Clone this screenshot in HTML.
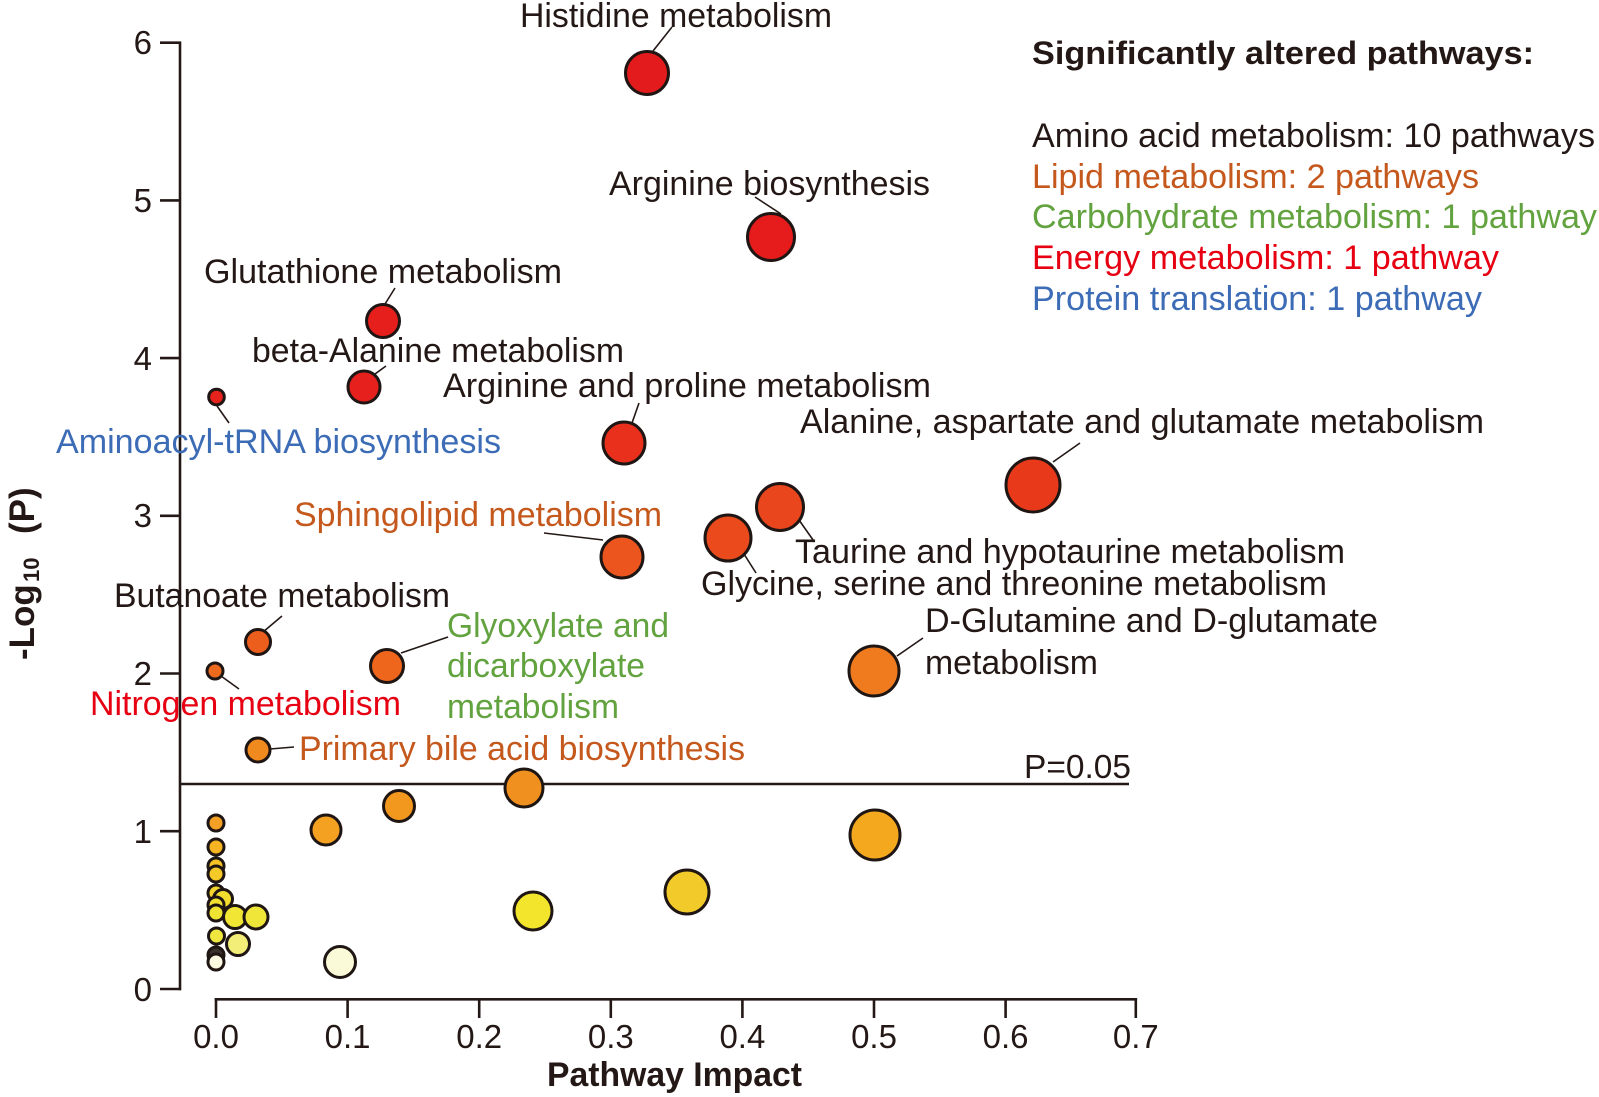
<!DOCTYPE html>
<html>
<head>
<meta charset="utf-8">
<style>
  html,body{margin:0;padding:0;background:#fff;}
  svg{display:block;}
  text{font-family:"Liberation Sans",Arial,sans-serif;}
</style>
</head>
<body>
<svg width="1599" height="1097" viewBox="0 0 1599 1097" xmlns="http://www.w3.org/2000/svg">
  <rect x="0" y="0" width="1599" height="1097" fill="#fff"/>

  <!-- Y axis -->
  <g stroke="#231815" stroke-width="2.6" fill="none">
    <line x1="180" y1="41.5" x2="180" y2="990.2"/>
    <line x1="160" y1="42.7" x2="181" y2="42.7"/>
    <line x1="160" y1="200.4" x2="180" y2="200.4"/>
    <line x1="160" y1="358.1" x2="180" y2="358.1"/>
    <line x1="160" y1="515.8" x2="180" y2="515.8"/>
    <line x1="160" y1="673.5" x2="180" y2="673.5"/>
    <line x1="160" y1="831.2" x2="180" y2="831.2"/>
    <line x1="160" y1="989" x2="181" y2="989"/>
  </g>
  <g font-size="33" fill="#231815" text-anchor="end">
    <text x="152" y="54">6</text>
    <text x="152" y="212">5</text>
    <text x="152" y="370">4</text>
    <text x="152" y="527">3</text>
    <text x="152" y="685">2</text>
    <text x="152" y="843">1</text>
    <text x="152" y="1001">0</text>
  </g>

  <!-- X axis -->
  <g stroke="#231815" stroke-width="2.6" fill="none">
    <line x1="214.7" y1="999.3" x2="1137.1" y2="999.3"/>
    <line x1="216" y1="998" x2="216" y2="1018"/>
    <line x1="347.6" y1="999" x2="347.6" y2="1018"/>
    <line x1="479.2" y1="999" x2="479.2" y2="1018"/>
    <line x1="610.8" y1="999" x2="610.8" y2="1018"/>
    <line x1="742.4" y1="999" x2="742.4" y2="1018"/>
    <line x1="874" y1="999" x2="874" y2="1018"/>
    <line x1="1005.6" y1="999" x2="1005.6" y2="1018"/>
    <line x1="1135.8" y1="998" x2="1135.8" y2="1018"/>
  </g>
  <g font-size="33" fill="#231815" text-anchor="middle">
    <text x="216" y="1048">0.0</text>
    <text x="347.6" y="1048">0.1</text>
    <text x="479.2" y="1048">0.2</text>
    <text x="610.8" y="1048">0.3</text>
    <text x="742.4" y="1048">0.4</text>
    <text x="874" y="1048">0.5</text>
    <text x="1005.6" y="1048">0.6</text>
    <text x="1135.8" y="1048">0.7</text>
  </g>

  <!-- Axis titles -->
  <text x="547" y="1086" font-size="34" font-weight="bold" fill="#231815" textLength="255" lengthAdjust="spacingAndGlyphs">Pathway Impact</text>
  <g transform="translate(34,660) rotate(-90)" fill="#231815" font-weight="bold">
    <text x="0" y="0" font-size="35">-Log</text>
    <text x="78" y="5" font-size="22">10</text>
    <text x="126" y="0" font-size="35">(P)</text>
  </g>

  <!-- P = 0.05 line -->
  <line x1="180" y1="784" x2="1129" y2="784" stroke="#231815" stroke-width="2.6"/>
  <text x="1024" y="778" font-size="33" fill="#231815" textLength="107" lengthAdjust="spacingAndGlyphs">P=0.05</text>

  <!-- Callout lines -->
  <g stroke="#231815" stroke-width="1.6" fill="none">
    <line x1="672" y1="27" x2="653" y2="51"/>
    <line x1="755" y1="197" x2="781" y2="214"/>
    <line x1="395" y1="288" x2="385" y2="304"/>
    <line x1="386" y1="366" x2="375" y2="374"/>
    <line x1="217" y1="406" x2="229" y2="423"/>
    <line x1="639" y1="403" x2="632" y2="423"/>
    <line x1="1080" y1="443" x2="1053" y2="462"/>
    <line x1="544" y1="533" x2="603" y2="540"/>
    <line x1="799" y1="520" x2="814.5" y2="542"/>
    <line x1="744" y1="554" x2="756" y2="573"/>
    <line x1="282" y1="616" x2="263" y2="632"/>
    <line x1="401" y1="653" x2="448" y2="637"/>
    <line x1="221" y1="676" x2="239" y2="689"/>
    <line x1="897" y1="656" x2="923" y2="638"/>
    <line x1="270" y1="749" x2="294" y2="747"/>
  </g>

  <!-- Bubbles -->
  <g stroke="#1f1614" stroke-width="3">
    <circle cx="647" cy="73" r="21.5" fill="#e41b1c"/>
    <circle cx="771" cy="237" r="23.5" fill="#e61c1c"/>
    <circle cx="383" cy="321" r="16.5" fill="#e61e1c"/>
    <circle cx="364" cy="387" r="16" fill="#e6201c"/>
    <circle cx="216.5" cy="397" r="7.8" fill="#e6221c"/>
    <circle cx="624" cy="443" r="21" fill="#e8301d"/>
    <circle cx="1033" cy="485" r="27" fill="#e83a1a"/>
    <circle cx="780" cy="507" r="23.5" fill="#e9461d"/>
    <circle cx="728" cy="538" r="23" fill="#ea4a1c"/>
    <circle cx="622" cy="557" r="21" fill="#ec561e"/>
    <circle cx="258" cy="642" r="12.5" fill="#ec5e1c"/>
    <circle cx="387" cy="666" r="16.5" fill="#ed661c"/>
    <circle cx="215" cy="671" r="8" fill="#ed6a1e"/>
    <circle cx="874" cy="671" r="25" fill="#ef7b1e"/>
    <circle cx="258" cy="750" r="12" fill="#f08a1e"/>
    <circle cx="524" cy="788" r="19" fill="#f0901e"/>
    <circle cx="399" cy="806" r="15.5" fill="#f2981e"/>
    <circle cx="326" cy="830" r="15" fill="#f4a020"/>
    <circle cx="875" cy="835" r="25" fill="#f4a81e"/>
    <circle cx="216" cy="823" r="8" fill="#f4a024"/>
    <circle cx="216" cy="847" r="8" fill="#f6b423"/>
    <circle cx="216" cy="866" r="8" fill="#f6c425"/>
    <circle cx="216" cy="874" r="8" fill="#f5c928"/>
    <circle cx="687" cy="892" r="22" fill="#f2ca29"/>
    <circle cx="216" cy="893" r="8" fill="#f5d52d"/>
    <circle cx="223" cy="899" r="9.5" fill="#f2dd2f"/>
    <circle cx="216" cy="905" r="8" fill="#f2e030"/>
    <circle cx="533" cy="911" r="19" fill="#f2e52c"/>
    <circle cx="216" cy="913" r="8" fill="#f0e432"/>
    <circle cx="235" cy="917" r="11.5" fill="#f0e633"/>
    <circle cx="256" cy="917" r="12" fill="#f0e63a"/>
    <circle cx="216.5" cy="936" r="8" fill="#f0e640"/>
    <circle cx="238" cy="944" r="11.5" fill="#f2ee78"/>
    <circle cx="216" cy="955" r="8" fill="#3a302c"/>
    <circle cx="216" cy="962" r="8" fill="#fbfae0"/>
    <circle cx="340" cy="962" r="15.5" fill="#faf9d8"/>
  </g>

  <!-- Bubble labels -->
  <g font-size="34" fill="#231815">
    <text x="520" y="27" textLength="312" lengthAdjust="spacingAndGlyphs">Histidine metabolism</text>
    <text x="609" y="195" textLength="321" lengthAdjust="spacingAndGlyphs">Arginine biosynthesis</text>
    <text x="204" y="283" textLength="358" lengthAdjust="spacingAndGlyphs">Glutathione metabolism</text>
    <text x="252" y="362" textLength="372" lengthAdjust="spacingAndGlyphs">beta-Alanine metabolism</text>
    <text x="443" y="397" textLength="488" lengthAdjust="spacingAndGlyphs">Arginine and proline metabolism</text>
    <text x="800" y="433" textLength="684" lengthAdjust="spacingAndGlyphs">Alanine, aspartate and glutamate metabolism</text>
    <text x="795" y="563" textLength="550" lengthAdjust="spacingAndGlyphs">Taurine and hypotaurine metabolism</text>
    <text x="701" y="595" textLength="626" lengthAdjust="spacingAndGlyphs">Glycine, serine and threonine metabolism</text>
    <text x="114" y="607" textLength="336" lengthAdjust="spacingAndGlyphs">Butanoate metabolism</text>
    <text x="925" y="632" textLength="453" lengthAdjust="spacingAndGlyphs">D-Glutamine and D-glutamate</text>
    <text x="925" y="674" textLength="173" lengthAdjust="spacingAndGlyphs">metabolism</text>
  </g>
  <text x="56" y="453" font-size="34" fill="#3c6cb6" textLength="445" lengthAdjust="spacingAndGlyphs">Aminoacyl-tRNA biosynthesis</text>
  <text x="294" y="526" font-size="34" fill="#c5581c" textLength="368" lengthAdjust="spacingAndGlyphs">Sphingolipid metabolism</text>
  <g font-size="34" fill="#62a23f">
    <text x="447" y="637" textLength="222" lengthAdjust="spacingAndGlyphs">Glyoxylate and</text>
    <text x="447" y="677" textLength="198" lengthAdjust="spacingAndGlyphs">dicarboxylate</text>
    <text x="447" y="718" textLength="172" lengthAdjust="spacingAndGlyphs">metabolism</text>
  </g>
  <text x="90" y="715" font-size="34" fill="#e60012" textLength="311" lengthAdjust="spacingAndGlyphs">Nitrogen metabolism</text>
  <text x="299" y="760" font-size="34" fill="#c5581c" textLength="446" lengthAdjust="spacingAndGlyphs">Primary bile acid biosynthesis</text>

  <!-- Legend -->
  <text x="1032" y="64" font-size="32" font-weight="bold" fill="#231815" textLength="502" lengthAdjust="spacingAndGlyphs">Significantly altered pathways:</text>
  <text x="1032" y="147" font-size="34" fill="#231815" textLength="563" lengthAdjust="spacingAndGlyphs">Amino acid metabolism: 10 pathways</text>
  <text x="1032" y="188" font-size="34" fill="#c5581c" textLength="447" lengthAdjust="spacingAndGlyphs">Lipid metabolism: 2 pathways</text>
  <text x="1032" y="228" font-size="34" fill="#62a23f" textLength="565" lengthAdjust="spacingAndGlyphs">Carbohydrate metabolism: 1 pathway</text>
  <text x="1032" y="269" font-size="34" fill="#e60012" textLength="467" lengthAdjust="spacingAndGlyphs">Energy metabolism: 1 pathway</text>
  <text x="1032" y="310" font-size="34" fill="#3c6cb6" textLength="450" lengthAdjust="spacingAndGlyphs">Protein translation: 1 pathway</text>
</svg>
</body>
</html>
